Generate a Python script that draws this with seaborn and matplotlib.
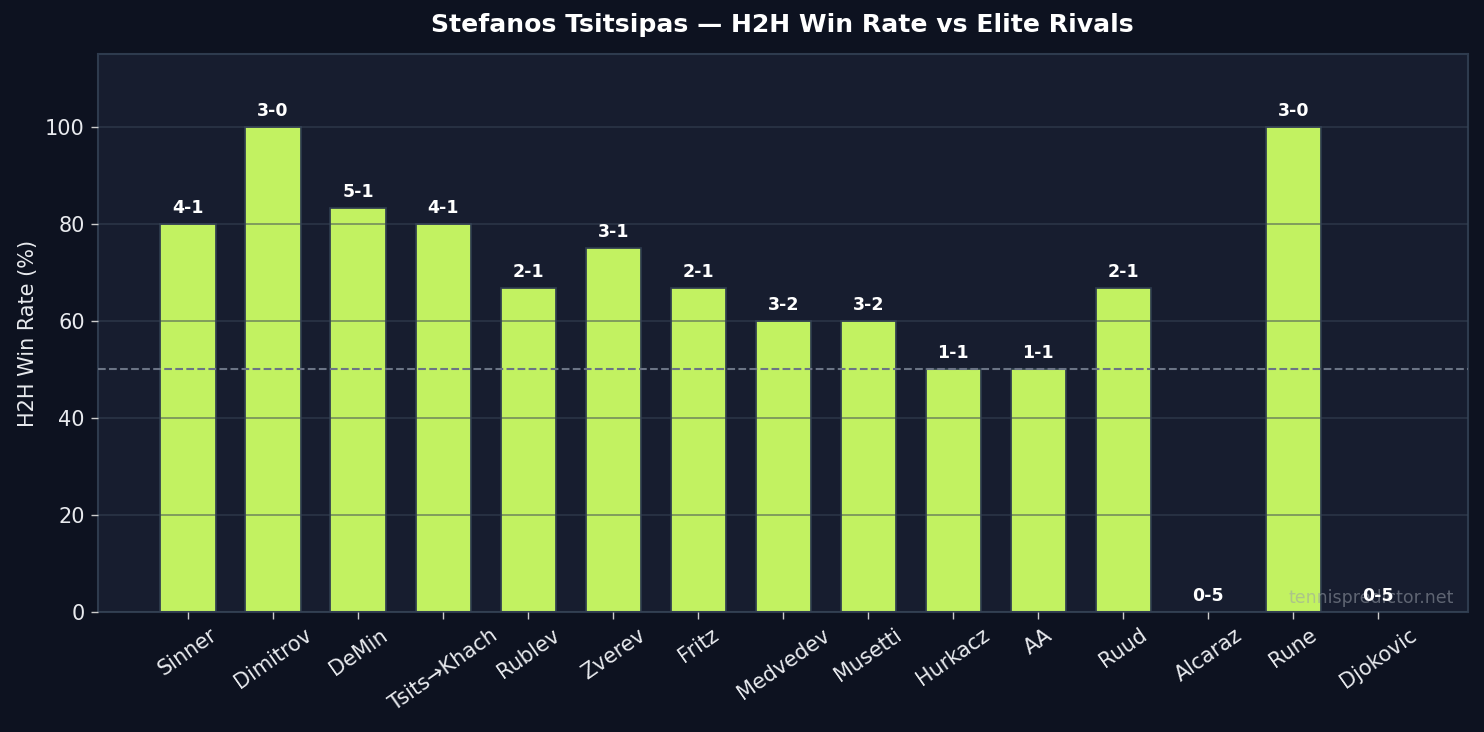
import pandas as pd
import seaborn as sns
import matplotlib.pyplot as plt

# data
rivals = ["Sinner", "Dimitrov", "DeMin", "Tsits\u2192Khach", "Rublev", "Zverev", "Fritz",
          "Medvedev", "Musetti", "Hurkacz", "AA", "Ruud", "Alcaraz", "Rune", "Djokovic"]
win_rate = [80.0, 100.0, 83.3, 80.0, 66.7, 75.0, 66.7, 60.0, 60.0, 50.0, 50.0, 66.7, 0.0, 100.0, 0.0]
records = ["4-1", "3-0", "5-1", "4-1", "2-1", "3-1", "2-1", "3-2", "3-2", "1-1", "1-1", "2-1",
           "0-5", "3-0", "0-5"]

FIG_BG = "#0d1220"
AX_BG = "#171d2f"
BAR = "#c2f261"
SPINE = "#2e3b4e"

sns.set_style("dark")
plt.rcParams["font.family"] = ["DejaVu Sans"]

df = pd.DataFrame({"rival": rivals, "rate": win_rate, "rec": records})

fig = plt.figure(figsize=(11.872, 5.856), dpi=125, facecolor=FIG_BG)
ax = fig.add_axes([0.066, 0.164, 0.923, 0.762])
ax.set_facecolor(AX_BG)

sns.barplot(data=df, x="rival", y="rate", color=BAR, saturation=1, width=0.65,
            edgecolor=SPINE, linewidth=1, ax=ax)

ax.axhline(50, color="#6b7485", linestyle="--", linewidth=1.2, zorder=5)

for i, (h, r) in enumerate(zip(df["rate"], df["rec"])):
    ax.text(i, h + 1.5, r, ha="center", va="bottom", color="white",
            fontsize=10, fontweight="bold", zorder=6)

ax.text(0.99, 0.008, "tennispredictor.net", transform=ax.transAxes, ha="right",
        va="bottom", color="#9aa0aa", alpha=0.55, fontsize=10, zorder=4)

ax.set_ylim(0, 115)
ax.set_xlim(-1.06, 15.05)
ax.set_yticks([0, 20, 40, 60, 80, 100])
ax.set_axisbelow(False)
ax.yaxis.grid(True, color="#3a4658", alpha=0.55, linewidth=1)
ax.xaxis.grid(False)

ax.set_xlabel("")
ax.set_ylabel("H2H Win Rate (%)", color="#e8eaee", fontsize=12)
ax.set_title("Stefanos Tsitsipas \u2014 H2H Win Rate vs Elite Rivals", color="white",
             fontsize=14.5, fontweight="bold", pad=13)

ax.tick_params(axis="x", rotation=35, labelsize=12, colors="#e8eaee", length=4,
               color="#cccccc", bottom=True)
ax.tick_params(axis="y", labelsize=12, colors="#e8eaee", length=4, color="#cccccc", left=True)
for s in ax.spines.values():
    s.set_color(SPINE)
    s.set_linewidth(1.2)

fig.savefig("out.png", dpi=125, facecolor=FIG_BG)
